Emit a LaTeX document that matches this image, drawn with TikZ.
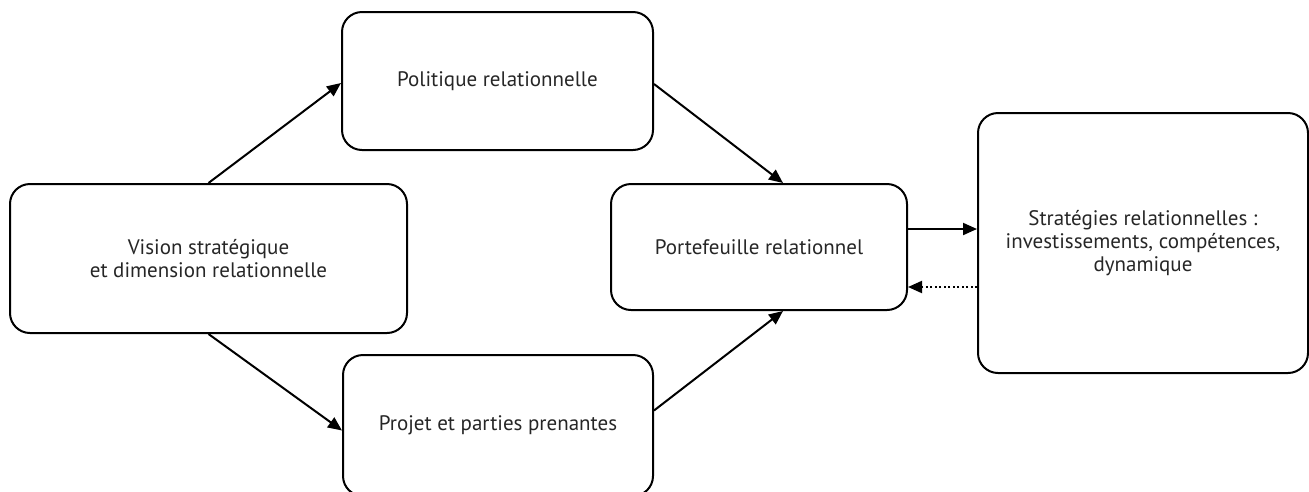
\documentclass[tikz,border=0pt]{standalone}
\usepackage{fontspec}
\setmainfont{PT Sans}
\usetikzlibrary{arrows.meta,calc}
\begin{document}
\begin{tikzpicture}[x=1pt,y=-1pt,
  box/.style={draw=black,line width=2pt,rounded corners=20pt,inner sep=0pt,align=center,
    font=\fontsize{21}{23}\selectfont,text=black!85},
  conn/.style={line width=2pt,-{Triangle[length=14pt,width=12pt]}},
  back/.style={line width=2pt,dash pattern=on 2pt off 2.5pt,-{Triangle[length=14pt,width=12pt]}}]
\useasboundingbox (0,0) rectangle (1309,491);
\node[box,minimum width=397pt,minimum height=149pt] (b1) at (208.5,258.5) {Vision stratégique\\et dimension relationnelle};
\node[box,minimum width=311pt,minimum height=138pt] (b2) at (497.5,81) {Politique relationnelle};
\node[box,minimum width=310pt,minimum height=141pt] (b3) at (498,425.5) {Projet et parties prenantes};
\node[box,minimum width=296pt,minimum height=126pt] (b4) at (759,247) {Portefeuille relationnel};
\node[box,minimum width=330pt,minimum height=260pt] (b5) at (1143,243) {Stratégies relationnelles :\\investissements, compétences,\\dynamique};
\draw[conn] (b1.north) -- ($(b2.west)+(0,2)$);
\draw[conn] (b1.south) -- ($(b3.west)+(0,5)$);
\draw[conn] ($(b2.east)+(0,3)$) -- ($(b4.north)+(24,0)$);
\draw[conn] ($(b3.east)+(0,-15)$) -- ($(b4.south)+(24,0)$);
\coordinate (s1) at ($(b4.east)+(0,-18)$);
\coordinate (s2) at ($(b4.east)+(0,40)$);
\draw[conn] (s1) -- (s1 -| b5.west);
\draw[back] (s2 -| b5.west) -- (s2);
\end{tikzpicture}
\end{document}
